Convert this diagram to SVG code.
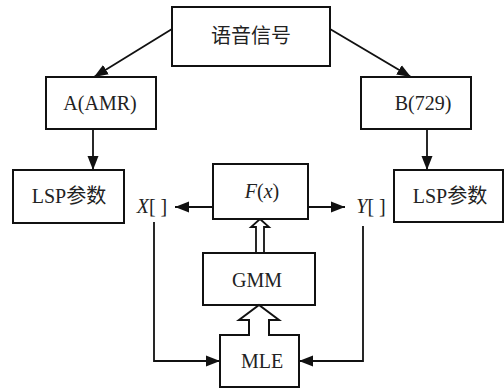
<svg xmlns="http://www.w3.org/2000/svg" width="504" height="392" viewBox="0 0 504 392">
  <style>
    .box { fill: #fff; stroke: #111; stroke-width: 2; }
    .lbl { font-family: "Liberation Serif", "Times New Roman", "DejaVu Serif", serif; font-size: 20px; fill: #222; text-anchor: middle; }
    .cjk { font-family: "Noto Sans CJK SC", sans-serif; }
    .it { font-style: italic; }
    .wire { fill: none; stroke: #111; stroke-width: 1.8; }
    .hollow { fill: #fff; stroke: #111; stroke-width: 1.8; stroke-linejoin: miter; }
  </style>
  <defs>
    <marker id="arrow" markerUnits="userSpaceOnUse" markerWidth="16" markerHeight="14" refX="14" refY="7" orient="auto">
      <path d="M0,1.5 L14,7 L0,12.5 Z" fill="#111"/>
    </marker>
  </defs>
  <rect width="504" height="392" fill="#fff"/>

  <g id="connectors">
    <path class="wire" d="M172,29 L94,77" marker-end="url(#arrow)"/>
    <path class="wire" d="M330,29 L411,77" marker-end="url(#arrow)"/>
    <path class="wire" d="M93,129 V170" marker-end="url(#arrow)"/>
    <path class="wire" d="M427,129 V170" marker-end="url(#arrow)"/>
    <path class="wire" d="M213,207 H175" marker-end="url(#arrow)"/>
    <path class="wire" d="M308,207 H345" marker-end="url(#arrow)"/>
    <path class="wire" d="M154,222 V361 H220" marker-end="url(#arrow)"/>
    <path class="wire" d="M363,226 V361 H299" marker-end="url(#arrow)"/>
    <!-- hollow arrow from GMM up to F(x) -->
    <path class="hollow" d="M256,253 V227 H251 L260,219 L269,227 H264 V253 Z"/>
  </g>

  <g id="speech">
    <rect class="box" x="172" y="7" width="158" height="59"/>
    <text class="lbl cjk" x="251" y="43">语音信号</text>
  </g>
  <g id="codecA">
    <rect class="box" x="46" y="77" width="110" height="52"/>
    <text class="lbl" x="100" y="110">A(AMR)</text>
  </g>
  <g id="codecB">
    <rect class="box" x="361" y="77" width="110" height="52"/>
    <text class="lbl" x="423" y="110">B(729)</text>
  </g>
  <g id="lspA">
    <rect class="box" x="13" y="170" width="111" height="53"/>
    <text class="lbl" x="69" y="203">LSP<tspan class="cjk">参数</tspan></text>
  </g>
  <g id="lspB">
    <rect class="box" x="394" y="170" width="109" height="52"/>
    <text class="lbl" x="450" y="203">LSP<tspan class="cjk">参数</tspan></text>
  </g>
  <g id="fx">
    <rect class="box" x="213" y="164" width="95" height="55"/>
    <text class="lbl" x="262" y="198"><tspan class="it">F</tspan>(<tspan class="it">x</tspan>)</text>
  </g>
  <g id="xvec">
    <text class="lbl" x="152" y="213"><tspan class="it">X</tspan>[ ]</text>
  </g>
  <g id="yvec">
    <text class="lbl" x="371" y="213"><tspan class="it">Y</tspan>[ ]</text>
  </g>
  <g id="gmm">
    <rect class="box" x="203" y="253" width="112" height="52"/>
    <text class="lbl" x="257" y="287">GMM</text>
  </g>
  <g id="mle">
    <!-- MLE box whose top edge rises into a hollow arrow pointing at GMM -->
    <path class="box" d="M220,335 H249 V320 H239 L259,305 L279,320 H269 V335 H299 V387 H220 Z"/>
    <text class="lbl" x="262" y="368">MLE</text>
  </g>
</svg>
